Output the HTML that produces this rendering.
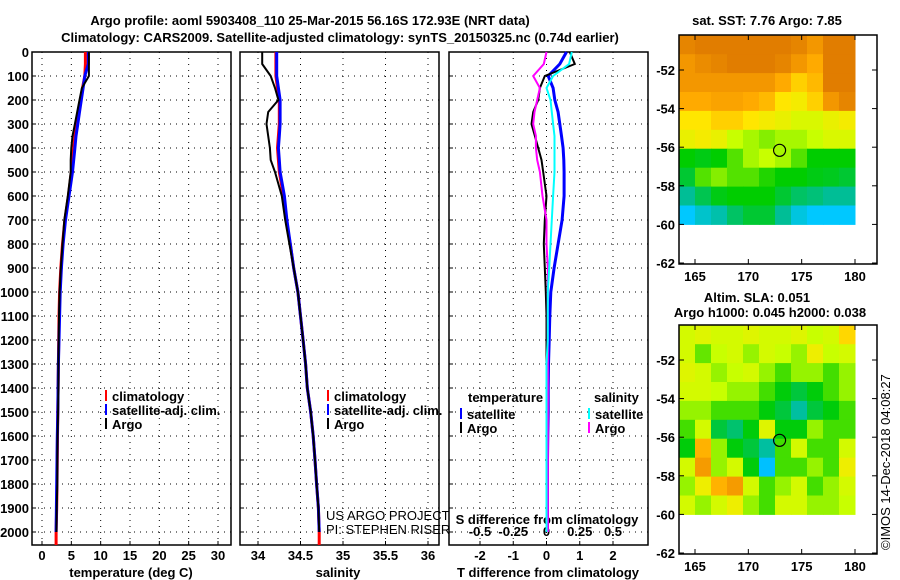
<!DOCTYPE html>
<html><head><meta charset="utf-8">
<style>
html,body{margin:0;padding:0;background:#fff;}
svg{display:block;font-family:"Liberation Sans",sans-serif;font-weight:bold;}
text{font-size:13px;fill:#000;}
</style></head>
<body>
<svg id="c" width="900" height="580" viewBox="0 0 900 580">
<text x="310" y="25" text-anchor="middle" font-size="14.5">Argo profile: aoml 5903408_110 25-Mar-2015 56.16S 172.93E (NRT data)</text>
<text x="340" y="42" text-anchor="middle" font-size="14.5">Climatology: CARS2009. Satellite-adjusted climatology: synTS_20150325.nc (0.74d earlier)</text>
</svg>
<script>
// ---------- data ----------
const depths = [0,50,100,150,200,250,300,350,400,450,500,600,700,800,900,1000,1100,1200,1300,1400,1500,1600,1700,1800,1900,2000];
const tempClim = [7.4,7.4,7.3,6.9,6.6,6.3,5.9,5.6,5.4,5.2,5.0,4.5,3.9,3.5,3.2,3.0,2.9,2.85,2.8,2.75,2.7,2.65,2.6,2.55,2.5,2.4];
const tempSat  = [7.9,7.9,7.3,7.0,6.7,6.4,6.1,5.8,5.6,5.4,5.2,4.6,4.0,3.6,3.3,3.1,3.0,2.9,2.8,2.75,2.7,2.6,2.55,2.5,2.45,2.4];
const tempArgo = [8.0,8.0,8.0,6.8,6.4,6.0,5.6,5.2,5.0,4.9,4.9,4.4,3.8,3.5,3.2,3.0,2.9,2.85,2.8,2.8,2.75,2.65,2.6,2.6,2.5,2.45];
const salClim = [34.21,34.21,34.21,34.23,34.25,34.25,34.25,34.24,34.23,34.24,34.25,34.30,34.33,34.38,34.42,34.47,34.50,34.53,34.56,34.58,34.62,34.65,34.67,34.69,34.71,34.72];
const salSat  = [34.22,34.22,34.22,34.24,34.26,34.26,34.26,34.25,34.24,34.25,34.26,34.31,34.34,34.38,34.42,34.47,34.50,34.53,34.56,34.58,34.62,34.65,34.67,34.69,34.71,34.72];
const salArgo = [34.05,34.05,34.15,34.2,34.24,34.12,34.1,34.12,34.14,34.15,34.2,34.28,34.32,34.37,34.42,34.47,34.5,34.53,34.56,34.58,34.62,34.65,34.67,34.69,34.71,34.72];
const tDiffSat  = [0.6,0.4,0.05,0.2,0.25,0.35,0.4,0.45,0.5,0.52,0.53,0.53,0.47,0.35,0.23,0.13,0.1,0.08,0.06,0.05,0.05,0.04,0.03,0.03,0.03,0.03];
const tDiffArgo = [0.7,0.85,-0.05,-0.2,-0.25,-0.4,-0.45,-0.35,-0.25,-0.15,-0.1,0.0,-0.05,-0.08,-0.05,-0.02,0.0,0.0,0.0,0.0,0.0,0.0,0.0,0.0,0.0,0.0];
const sDiffSat  = [0.19,0.17,0.05,0.0,0.03,0.04,0.05,0.06,0.06,0.06,0.06,0.05,0.04,0.03,0.02,0.01,0.01,0.01,0.0,0.0,0.0,0.0,0.0,0.0,0.0,0.0];
const sDiffArgo = [0.0,-0.02,-0.1,-0.05,-0.07,-0.09,-0.1,-0.08,-0.08,-0.07,-0.05,-0.03,0.0,0.0,0.01,0.01,0.01,0.01,0.01,0.01,0.01,0.01,0.01,0.01,0.01,0.01];
const depthTicks = [0,100,200,300,400,500,600,700,800,900,1000,1100,1200,1300,1400,1500,1600,1700,1800,1900,2000];
const tempTicks = [0,5,10,15,20,25,30];
const salTicks = [34,34.5,35,35.5,36];
const tDiffTicks = [-2,-1,0,1,2];
const sDiffTicks = [-0.5,-0.25,0,0.25,0.5];
const sstTitle = "sat. SST: 7.76 Argo: 7.85";
const sstGrid = [
[.9,.92,.95,.95,.95,.95,.95,.9,.85,.95,.95],
[.85,.88,.9,.92,.93,.93,.9,.85,.8,.95,.95],
[.85,.85,.85,.85,.85,.85,.8,.75,.78,.95,.95],
[.8,.8,.82,.82,.8,.78,.72,.7,.75,.85,.9],
[.72,.72,.75,.75,.72,.7,.68,.65,.65,.68,.7],
[.68,.7,.68,.62,.6,.58,.6,.6,.62,.65,.65],
[.5,.48,.5,.55,.6,.62,.6,.55,.5,.5,.5],
[.45,.55,.58,.55,.55,.52,.5,.5,.48,.47,.45],
[.35,.42,.48,.5,.5,.5,.45,.4,.38,.35,.35],
[.25,.3,.33,.4,.45,.45,.35,.28,.25,.25,.25]];
const slaGrid = [
[.64,.66,.64,.64,.66,.64,.64,.66,.62,.64,.74],
[.64,.56,.62,.64,.59,.64,.62,.59,.69,.62,.64],
[.66,.64,.59,.62,.64,.59,.54,.59,.59,.54,.59],
[.64,.64,.62,.59,.59,.54,.49,.44,.49,.54,.59],
[.59,.59,.54,.54,.54,.49,.44,.34,.44,.49,.54],
[.54,.64,.44,.39,.49,.66,.49,.49,.59,.54,.54],
[.49,.79,.59,.49,.44,.34,.54,.64,.54,.54,.64],
[.64,.84,.59,.64,.49,.24,.54,.54,.59,.54,.69],
[.59,.69,.79,.84,.64,.54,.59,.64,.54,.59,.64],
[.64,.59,.64,.69,.59,.54,.64,.64,.59,.59,.62]];
const latTicks = [-52,-54,-56,-58,-60,-62];
const lonTicks = [165,170,175,180];
const argoLon = 172.93, argoLat = -56.16;

// ---------- helpers ----------
const svg = document.getElementById('c');
const NS = 'http://www.w3.org/2000/svg';
function mk(tag, attrs, name, parent){
  const el = document.createElementNS(NS, tag);
  for (const k in attrs) el.setAttribute(k, attrs[k]);
  
  
  (parent||svg).appendChild(el);
  return el;
}
function txt(x,y,s,name,opts){
  const t = mk('text', Object.assign({x:x,y:y}, opts||{}), name);
  t.textContent = s; return t;
}
const PT = 52, PB = 545;
const yD = d => PT + d*0.24;
function linScale(v0,p0,v1,p1){ return v => p0 + (v-v0)*(p1-p0)/(v1-v0); }

function panel(x0,x1,sx,ticks,fmt,name){
  mk('rect',{x:x0,y:PT,width:x1-x0,height:PB-PT,fill:'none',stroke:'#000','stroke-width':1.5},name+'-frame');
  ticks.forEach(t=>{
    const x = sx(t);
    mk('line',{x1:x,y1:PT,x2:x,y2:PB,stroke:'#000','stroke-width':1,'stroke-dasharray':'1,5'},name+'-vgrid');
    mk('line',{x1:x,y1:PB,x2:x,y2:PB-4,stroke:'#000'},name+'-xtick');
    txt(x,PB+15,fmt(t),name+'-xtick-label',{'text-anchor':'middle'});
  });
  depthTicks.forEach(d=>{
    const y = yD(d);
    mk('line',{x1:x0,y1:y,x2:x1,y2:y,stroke:'#000','stroke-width':1,'stroke-dasharray':'1,5'},name+'-hgrid');
    mk('line',{x1:x0,y1:y,x2:x0+4,y2:y,stroke:'#000'},name+'-ytick');
  });
}
function line(vals, sx, color, w, name, dmax){
  const pts = [];
  vals.forEach((v,i)=>{ pts.push(sx(v).toFixed(1)+','+yD(depths[i]).toFixed(1)); });
  if (dmax) pts.push(sx(vals[vals.length-1]).toFixed(1)+','+yD(dmax).toFixed(1));
  mk('polyline',{points:pts.join(' '),fill:'none',stroke:color,'stroke-width':w,'stroke-linejoin':'miter'},name);
}

// ---------- panel 1: temperature ----------
const sT = linScale(0,42,30,218);
panel(32,231,sT,tempTicks,String,'temperature-panel');
depthTicks.forEach(d=>txt(29,yD(d)+5,String(d),'depth-tick-label',{'text-anchor':'end'}));
line(tempClim,sT,'#f00',3,'temp-climatology-line',2054);
line(tempSat,sT,'#00f',3,'temp-satellite-line');
line(tempArgo,sT,'#000',2,'temp-argo-line');
txt(131,577,'temperature (deg C)','temperature-axis-title',{'text-anchor':'middle'});

// ---------- panel 2: salinity ----------
const sS = linScale(34,258,36,428);
panel(240,439,sS,salTicks,String,'salinity-panel');
line(salClim,sS,'#f00',3,'sal-climatology-line',2054);
line(salSat,sS,'#00f',3,'sal-satellite-line');
line(salArgo,sS,'#000',2,'sal-argo-line');
txt(338,577,'salinity','salinity-axis-title',{'text-anchor':'middle'});

// legends 1 & 2
[[105,'temp'],[327,'sal']].forEach(([lx,n])=>{
  [['#f00','climatology'],['#00f','satellite-adj. clim.'],['#000','Argo']].forEach(([c,s],i)=>{
    const y = 398+i*14;
    mk('rect',{x:lx,y:y-8,width:2,height:11,fill:c},n+'-legend-swatch');
    txt(lx+7,y+3,s,n+'-legend-entry');
  });
});
txt(326,520,'US ARGO PROJECT','project-credit',{'font-weight':'normal','font-size':'12.5'});
txt(326,534,'PI: STEPHEN RISER','pi-credit',{'font-weight':'normal','font-size':'12.5'});

// ---------- panel 3: differences ----------
const sTd = linScale(-2,480,2,613);
const sSd = linScale(-0.5,480,0.5,613);
panel(449,648,sTd,tDiffTicks,String,'difference-panel');
sDiffTicks.forEach(t=>txt(sSd(t),536,String(t),'s-diff-tick-label',{'text-anchor':'middle'}));
txt(547,524,'S difference from climatology','s-diff-axis-title',{'text-anchor':'middle'});
line(tDiffSat,sTd,'#00f',3,'tdiff-satellite-line');
line(tDiffArgo,sTd,'#000',2,'tdiff-argo-line');
line(sDiffArgo,sSd,'#f0f',2,'sdiff-argo-line');
line(sDiffSat,sSd,'#0ff',2,'sdiff-satellite-line');
txt(548,577,'T difference from climatology','tdiff-axis-title',{'text-anchor':'middle'});
txt(468,402,'temperature','diff-legend-temp-header');
txt(594,402,'salinity','diff-legend-sal-header');
[[460,'#00f','satellite'],[460,'#000','Argo'],[588,'#0ff','satellite'],[588,'#f0f','Argo']].forEach(([lx,c,s],i)=>{
  const y = 416+(i%2)*14;
  mk('rect',{x:lx,y:y-8,width:2,height:11,fill:c},'diff-legend-swatch');
  txt(lx+7,y+3,s,'diff-legend-entry');
});

// ---------- maps ----------
function cmapSST(v){
  const st=[[0.15,[0,120,255]],[0.25,[0,200,255]],[0.35,[0,190,150]],[0.5,[0,205,0]],[0.62,[200,255,0]],[0.72,[255,230,0]],[0.8,[255,170,0]],[0.92,[225,125,0]]];
  if(v<=st[0][0]) return 'rgb('+st[0][1]+')';
  for(let i=1;i<st.length;i++){ if(v<=st[i][0]){ const a=st[i-1],b=st[i],f=(v-a[0])/(b[0]-a[0]);
    return 'rgb('+a[1].map((c,k)=>Math.round(c+(b[1][k]-c)*f)).join(',')+')'; } }
  return 'rgb('+st[st.length-1][1]+')';
}
function map(top, grid, title, name){
  const sx = linScale(165,695,180,855);
  const sy = linScale(-52,top+35,-62,top+228);
  const lat0=-50.2, lat1=-60, lon0=163.5, lon1=180;
  const rows=grid.length, cols=grid[0].length;
  grid.forEach((row,r)=>row.forEach((v,c)=>{
    const xa=sx(lon0+(lon1-lon0)*c/cols), xb=sx(lon0+(lon1-lon0)*(c+1)/cols);
    const ya=sy(lat0+(lat1-lat0)*r/rows), yb=sy(lat0+(lat1-lat0)*(r+1)/rows);
    mk('rect',{x:xa.toFixed(1),y:ya.toFixed(1),width:(xb-xa+0.5).toFixed(1),height:(yb-ya+0.5).toFixed(1),fill:cmapSST(v)},name+'-cell');
  }));
  mk('rect',{x:679,y:top,width:198,height:229,fill:'none',stroke:'#000','stroke-width':1.5},name+'-frame');
  latTicks.forEach(t=>{
    const y=sy(t);
    mk('line',{x1:679,y1:y,x2:684,y2:y,stroke:'#000'},name+'-lat-tick');
    mk('line',{x1:872,y1:y,x2:877,y2:y,stroke:'#000'},name+'-lat-tick');
    txt(675,y+5,String(t),name+'-lat-label',{'text-anchor':'end'});
  });
  lonTicks.forEach(t=>{
    const x=sx(t);
    mk('line',{x1:x,y1:top+229,x2:x,y2:top+224,stroke:'#000'},name+'-lon-tick');
    mk('line',{x1:x,y1:top,x2:x,y2:top+5,stroke:'#000'},name+'-lon-tick');
    txt(x,top+246,String(t),name+'-lon-label',{'text-anchor':'middle'});
  });
  mk('circle',{cx:sx(argoLon),cy:sy(argoLat),r:6,fill:'none',stroke:'#000','stroke-width':1.2},name+'-argo-location');
}
map(35,sstGrid,sstTitle,'sst-map');
txt(767,25,sstTitle,'sst-map-title',{'text-anchor':'middle'});
map(325,slaGrid,'','sla-map');
txt(757,302,'Altim. SLA: 0.051','sla-map-title',{'text-anchor':'middle'});
txt(770,317,'Argo h1000: 0.045 h2000: 0.038','argo-height-title',{'text-anchor':'middle'});
txt(0,0,'\u00a9IMOS 14-Dec-2018 04:08:27','imos-timestamp',{transform:'translate(890,550) rotate(-90)','font-weight':'normal','font-size':'12.5'});
</script>
</body></html>
